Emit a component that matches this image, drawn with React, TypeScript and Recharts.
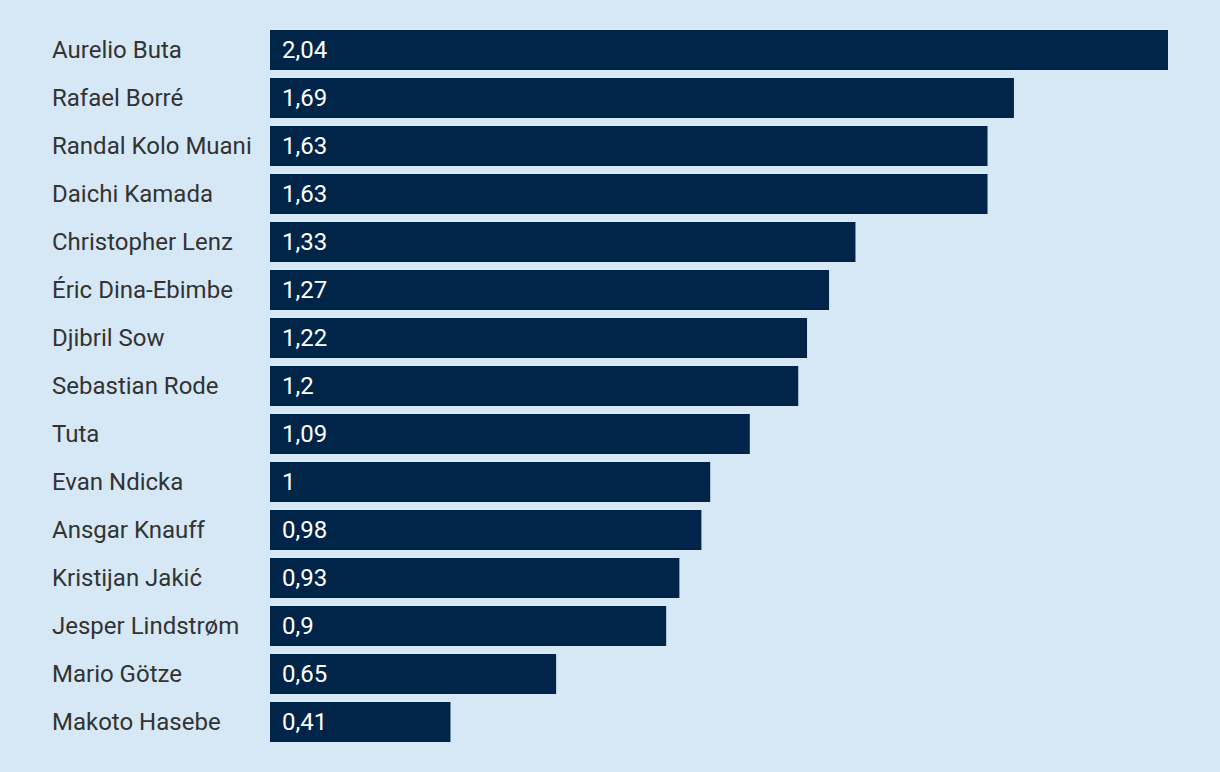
import { Bar, BarChart, LabelList, XAxis, YAxis } from 'recharts'

const players = [
  'Aurelio Buta',
  'Rafael Borré',
  'Randal Kolo Muani',
  'Daichi Kamada',
  'Christopher Lenz',
  'Éric Dina-Ebimbe',
  'Djibril Sow',
  'Sebastian Rode',
  'Tuta',
  'Evan Ndicka',
  'Ansgar Knauff',
  'Kristijan Jakić',
  'Jesper Lindstrøm',
  'Mario Götze',
  'Makoto Hasebe'
]

const values = [2.04, 1.69, 1.63, 1.63, 1.33, 1.27, 1.22, 1.2, 1.09, 1, 0.98, 0.93, 0.9, 0.65, 0.41]

const data = players.map((name, i) => ({ name, value: values[i] }))

const NameTick = (props: any) => {
  const { y, payload } = props
  return (
    <text
      x={52}
      y={y}
      dy={8}
      textAnchor='start'
      fill='#333333'
      fontSize={24}
      fontFamily='Roboto'
    >
      {payload.value}
    </text>
  )
}

const ValueLabel = (props: any) => {
  const { x, y, height, value } = props
  return (
    <text
      x={x + 12}
      y={y + height / 2}
      dy={8}
      textAnchor='start'
      fill='#ffffff'
      fontSize={24}
      fontFamily='Roboto'
    >
      {String(value).replace('.', ',')}
    </text>
  )
}

export default function App() {
  return (
    <div
      style={{
        position: 'fixed',
        left: 0,
        top: 0,
        width: 1220,
        height: 772,
        background: '#d6e8f5'
      }}
    >
      <BarChart
        width={1220}
        height={772}
        data={data}
        layout='vertical'
        barSize={40}
        margin={{ top: 26, right: 52, bottom: 26, left: 0 }}
      >
        <XAxis type='number' domain={[0, 2.04]} hide />
        <YAxis
          type='category'
          dataKey='name'
          width={270}
          axisLine={false}
          tickLine={false}
          tick={NameTick}
          interval={0}
        />
        <Bar dataKey='value' fill='#002548' isAnimationActive={false}>
          <LabelList dataKey='value' content={ValueLabel} />
        </Bar>
      </BarChart>
    </div>
  )
}
